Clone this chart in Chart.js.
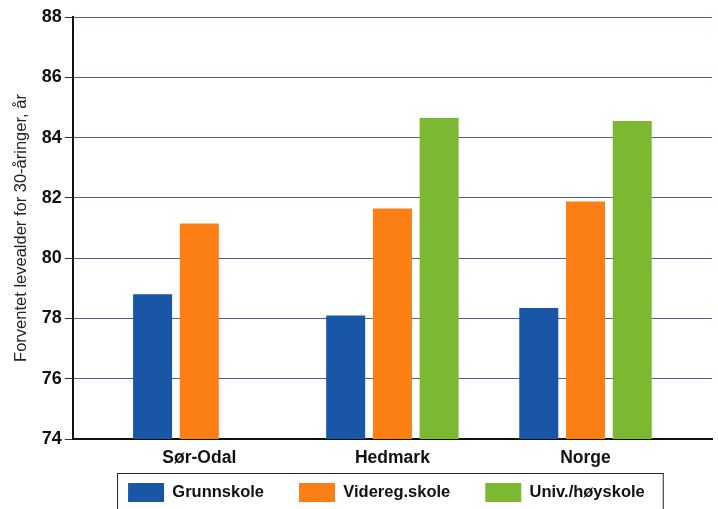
<!DOCTYPE html>
<html>
<head>
<meta charset="utf-8">
<script src="https://cdn.jsdelivr.net/npm/chart.js@4.4.0/dist/chart.umd.min.js"></script>
<style>
  html, body { margin: 0; padding: 0; background: #fff; }
  #wrap { width: 718px; height: 509px; }
</style>
</head>
<body>
<div id="wrap"><canvas id="chart" width="718" height="509"></canvas></div>
<script>
// ===== Data =====
const places = ['Sør-Odal', 'Hedmark', 'Norge'];
const grunnskole = [78.8, 78.1, 78.35];
const videreg = [81.15, 81.65, 81.88];
const univ = [null, 84.65, 84.55];
const yTicks = [74, 76, 78, 80, 82, 84, 86, 88];

// ===== Legend: fixed slot, moved under the plot, with a frame =====
const legendFrame = {
    id: 'legendFrame',
    beforeLayout(chart) {
        const lg = chart.legend;
        if (lg && !lg._fixed) {
            const fit = lg.fit.bind(lg);
            lg.fit = function () { fit(); this.height = 40; };
            lg._fixed = true;
        }
    },
    afterLayout(chart) {
        const lg = chart.legend;
        const mid = (chart.chartArea.left + chart.chartArea.right) / 2 - 6;
        const half = (lg.right - lg.left) / 2;
        lg.left = mid - half;
        lg.right = mid + half;
        lg.top = 448;
        lg.bottom = 509;
    },
    afterDraw(chart) {
        const boxes = chart.legend.legendHitBoxes;
        if (!boxes || !boxes.length) return;
        const left = Math.min(...boxes.map(b => b.left)) - 11;
        const right = Math.max(...boxes.map(b => b.left + b.width)) + 18;
        const top = Math.min(...boxes.map(b => b.top)) - 10;
        const c = chart.ctx;
        c.save();
        c.strokeStyle = '#222';
        c.lineWidth = 1;
        c.strokeRect(left + 0.5, top + 0.5, right - left, 520 - top);
        c.restore();
    }
};

const ctx = document.getElementById('chart').getContext('2d');
new Chart(ctx, {
    type: 'bar',
    data: {
        labels: places,
        datasets: [
            { label: 'Grunnskole', data: grunnskole, backgroundColor: '#1a56a6' },
            { label: 'Videreg.skole', data: videreg, backgroundColor: '#fb7f14' },
            { label: 'Univ./høyskole', data: univ, backgroundColor: '#7db832' }
        ]
    },
    options: {
        responsive: false,
        animation: false,
        layout: { padding: { top: 17, right: 6, left: 12, bottom: 0 } },
        datasets: { bar: { categoryPercentage: 0.726, barPercentage: 0.835 } },
        plugins: {
            legend: {
                position: 'bottom',
                labels: {
                    boxWidth: 36,
                    boxHeight: 19,
                    padding: 35,
                    color: '#111',
                    font: { family: 'Liberation Sans, Arial', size: 16.5, weight: 'bold' }
                }
            },
            tooltip: { enabled: false }
        },
        scales: {
            x: {
                afterBuildTicks: s => { s._startValue -= 0.155; s._valueRange += 0.31; },
                afterFit: s => { s.height = 30; },
                grid: { display: false, drawTicks: false },
                border: { color: '#111', width: 2 },
                ticks: {
                    color: '#111',
                    padding: 9,
                    font: { family: 'Liberation Sans, Arial', size: 17.5, weight: 'bold' }
                }
            },
            y: {
                min: 74,
                max: 88,
                afterBuildTicks: s => { s.ticks = yTicks.map(v => ({ value: v })); },
                border: { color: '#111', width: 2 },
                grid: {
                    color: '#4a5da6',
                    lineWidth: 1,
                    tickLength: 8,
                    tickColor: '#333'
                },
                ticks: {
                    color: '#111',
                    padding: 3,
                    font: { family: 'Liberation Sans, Arial', size: 18, weight: 'bold' }
                },
                title: {
                    display: true,
                    text: 'Forventet levealder for 30-åringer, år',
                    color: '#222',
                    padding: { top: 0, bottom: 7 },
                    font: { family: 'Liberation Sans, Arial', size: 16.5 }
                }
            }
        }
    },
    plugins: [legendFrame]
});
</script>
</body>
</html>
